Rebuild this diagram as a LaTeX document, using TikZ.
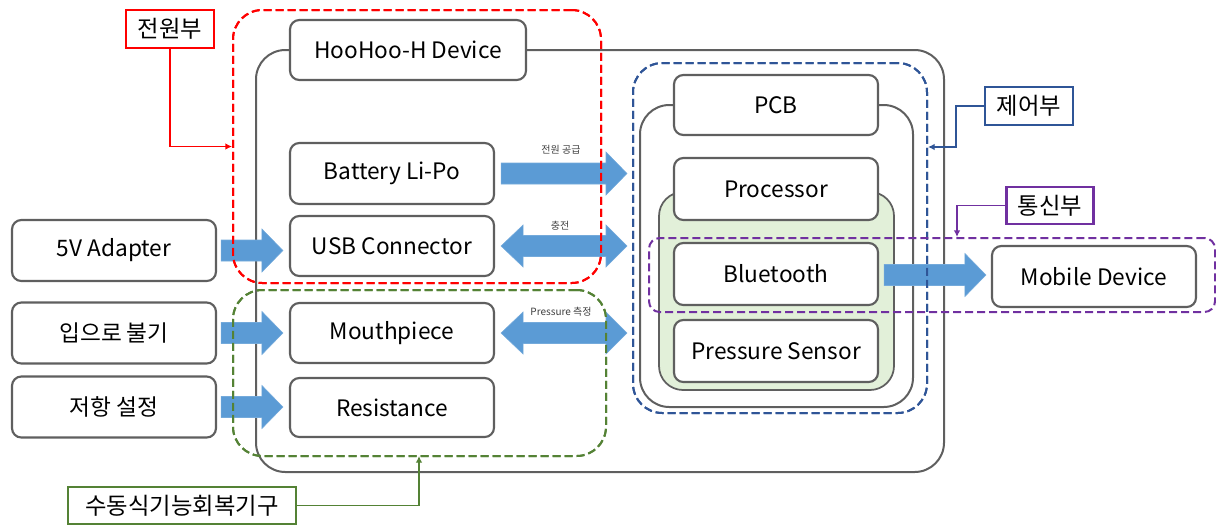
\documentclass[tikz,border=0pt]{standalone}
\usepackage{fontspec}
\setmainfont{Noto Sans CJK KR}
\usetikzlibrary{calc,arrows.meta}

\definecolor{framegray}{HTML}{5F5F5F}
\definecolor{arrowblue}{HTML}{5B9BD5}
\definecolor{zonered}{HTML}{FF0000}
\definecolor{zoneblue}{HTML}{2F5597}
\definecolor{zonepurple}{HTML}{7030A0}
\definecolor{zonegreen}{HTML}{548235}
\definecolor{mcufill}{HTML}{E2F0D9}

\tikzset{
  unit/.style={draw=framegray, line width=1.6pt, fill=white, rounded corners=7pt,
    font=\fontsize{17}{20}\selectfont, inner sep=0pt},
  frame/.style={draw=framegray, line width=1.5pt, rounded corners=22pt},
  zone/.style={line width=1.5pt, dash pattern=on 6pt off 3pt, rounded corners=22pt, inner sep=0pt},
  tag/.style={draw, line width=1.6pt, fill=white, inner sep=0pt,
    font=\fontsize{17.5}{20}\selectfont},
  tagline/.style={line width=1.4pt, -{Latex[length=5pt,width=5pt]}},
  note/.style={font=\fontsize{7.5}{9}\selectfont, text=black!75, inner sep=1pt},
  blockfill/.style={fill=arrowblue, draw=arrowblue!85!white, line width=0.4pt},
}

% single block arrow from #1 (tail) to #2 (tip), horizontal
\newcommand\blockarrow[2]{%
  \path[blockfill] ($(#1)+(0,-10.5)$) -- ($(#2)+(-21,-10.5)$) -- ($(#2)+(-21,-21.5)$)
    -- (#2) -- ($(#2)+(-21,21.5)$) -- ($(#2)+(-21,10.5)$) -- ($(#1)+(0,10.5)$) -- cycle;}
% double block arrow between #1 (left tip) and #2 (right tip)
\newcommand\dblockarrow[2]{%
  \path[blockfill] (#1) -- ($(#1)+(22,-21)$) -- ($(#1)+(22,-10.5)$) -- ($(#2)+(-21,-10.5)$)
    -- ($(#2)+(-21,-21)$) -- (#2) -- ($(#2)+(-21,21)$) -- ($(#2)+(-21,10.5)$)
    -- ($(#1)+(22,10.5)$) -- ($(#1)+(22,21)$) -- cycle;}

\begin{document}
\begin{tikzpicture}[x=0.75pt, y=-0.75pt]
\useasboundingbox (0,0) rectangle (1216,526);

% device housing and PCB carrier
\draw[frame] (256,50) rectangle (944,472);
\draw[frame] (640,105) rectangle (913,407);
\draw[draw=framegray, line width=1.3pt, fill=mcufill, rounded corners=18pt] (659,192) rectangle (894,390);

% units
\node[unit, minimum width=177pt, minimum height=45pt] (dev) at (408,50) {HooHoo-H Device};
\node[unit, minimum width=153pt, minimum height=45.75pt] (battery) at (392,173.5) {Battery Li-Po};
\node[unit, minimum width=153pt, minimum height=45pt] (usb) at (392,246) {USB Connector};
\node[unit, minimum width=153pt, minimum height=45pt] (mouth) at (392,333) {Mouthpiece};
\node[unit, minimum width=153pt, minimum height=44.25pt] (resist) at (392,407.5) {Resistance};

\node[unit, minimum width=153pt, minimum height=45.75pt] (adapter) at (114,250.5) {5V Adapter};
\node[unit, minimum width=153pt, minimum height=45.75pt] (blow) at (114,333) {입으로 불기};
\node[unit, minimum width=153pt, minimum height=45.75pt] (setres) at (114,407) {저항 설정};

\node[unit, minimum width=153pt, minimum height=45pt] (pcb) at (776,105) {PCB};
\node[unit, minimum width=153pt, minimum height=46.5pt] (proc) at (776,189) {Processor};
\node[unit, minimum width=153pt, minimum height=46.5pt] (bt) at (776,274) {Bluetooth};
\node[unit, minimum width=153pt, minimum height=46.5pt] (psens) at (776,351) {Pressure Sensor};

\node[unit, minimum width=153pt, minimum height=45.75pt] (mobile) at (1094,276.5) {Mobile Device};

% functional zones
\node[zone, draw=zonered, minimum width=276pt, minimum height=204.75pt] (pwrzone) at (417,146.5) {};
\node[zone, draw=zonegreen, minimum width=279.75pt, minimum height=124.5pt] (rehabzone) at (419.5,373) {};
\node[zone, draw=zoneblue, minimum width=220.5pt, minimum height=262.5pt] (ctlzone) at (780,238) {};

% power, charge and signal flows
\coordinate (a1s) at ($(adapter.east)+(4,0)$);
\coordinate (a1e) at ($(usb.west |- adapter.east)+(-6,0)$);
\coordinate (a2s) at ($(blow.east)+(4,0)$);
\coordinate (a2e) at ($(mouth.west)+(-6,0)$);
\coordinate (a3s) at ($(setres.east)+(4,0)$);
\coordinate (a3e) at ($(resist.west |- setres.east)+(-6,0)$);
\coordinate (a4s) at ($(battery.east)+(6,0)$);
\coordinate (a4e) at ($(battery.east -| ctlzone.west)+(-5,0)$);
\coordinate (a5s) at ($(usb.east)+(6,0)$);
\coordinate (a5e) at ($(usb.east -| ctlzone.west)+(-5,0)$);
\coordinate (a6s) at ($(mouth.east)+(6,0)$);
\coordinate (a6e) at ($(mouth.east -| ctlzone.west)+(-5,0)$);
\coordinate (a7s) at ($(bt.east)+(5,1)$);
\coordinate (a7e) at ($(mobile.west |- a7s)+(-5,0)$);

\blockarrow{a1s}{a1e}
\blockarrow{a2s}{a2e}
\blockarrow{a3s}{a3e}
\blockarrow{a4s}{a4e}
\dblockarrow{a5s}{a5e}
\dblockarrow{a6s}{a6e}
\blockarrow{a7s}{a7e}

\node[note] (n1) at (561,150) {전원 공급};
\node[note] (n2) at (560,226) {충전};
\node[note, fill=white, inner xsep=2pt] (n3) at (561,312) {Pressure 측정};

% zone outlines drawn over the flows
\node[zone, draw=zonered, minimum width=276pt, minimum height=204.75pt] at (pwrzone) {};
\node[zone, draw=zonegreen, minimum width=279.75pt, minimum height=124.5pt] at (rehabzone) {};
\node[zone, draw=zoneblue, minimum width=220.5pt, minimum height=262.5pt] at (ctlzone) {};
\node[zone, draw=zonepurple, rounded corners=8pt, minimum width=424.5pt, minimum height=55.5pt] (commzone) at (932,275) {};

% zone tags
\node[tag, draw=zonered, minimum width=66pt, minimum height=28.5pt] (pwr) at (170,29) {전원부};
\node[tag, draw=zoneblue, minimum width=66pt, minimum height=28.5pt] (ctrl) at (1029,106) {제어부};
\node[tag, draw=zonepurple, minimum width=65.25pt, minimum height=27.75pt] (comm) at (1050,205.5) {통신부};
\node[tag, draw=zonegreen, minimum width=171pt, minimum height=27.75pt] (rehab) at (182,505.5) {수동식기능회복기구};

\coordinate (pwrhit) at (pwrzone.west);
\coordinate (ctlhit) at (ctlzone.east |- 0,147);
\coordinate (commhit) at (957,237);
\coordinate (rehabhit) at (419,456);

\draw[tagline, draw=zonered] (pwr.south) |- (pwrhit);
\draw[tagline, draw=zoneblue] (ctrl.west) -- ++(-28,0) |- (ctlhit);
\draw[tagline, draw=zonepurple] (comm.west) -| (commhit);
\draw[tagline, draw=zonegreen] (rehab.east) -| (rehabhit);
\end{tikzpicture}
\end{document}
